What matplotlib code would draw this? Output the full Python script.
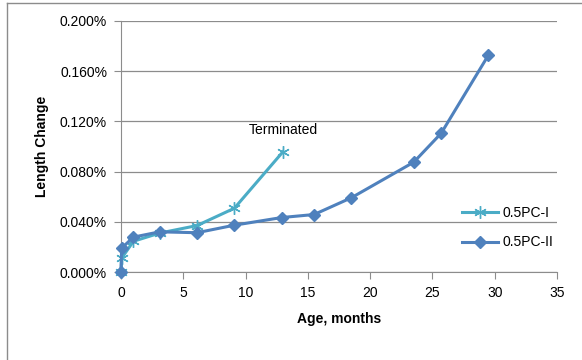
import matplotlib

matplotlib.use("Agg")
import matplotlib.pyplot as plt
from matplotlib.lines import Line2D
from matplotlib.ticker import FuncFormatter

plt.rcParams["font.family"] = ["Liberation Sans", "DejaVu Sans"]

# series 0.5PC-I (terminated at ~13 months)
age_1 = [0, 0.05, 1.0, 3.1, 6.1, 9.1, 13.0]
change_1 = [0.0, 0.011, 0.0245, 0.031, 0.037, 0.0508, 0.0958]

# series 0.5PC-II
age_2 = [0, 0.05, 1.0, 3.1, 6.1, 9.1, 12.9, 15.5, 18.5, 23.5, 25.7, 29.5]
change_2 = [0.0, 0.019, 0.0278, 0.032, 0.0313, 0.0373, 0.0434, 0.0458, 0.0592, 0.0875, 0.1105, 0.1729]

y_ticks = [0.0, 0.04, 0.08, 0.12, 0.16, 0.20]
x_ticks = [0, 5, 10, 15, 20, 25, 30, 35]

teal = "#4BACC6"
blue = "#4F81BD"

fig = plt.figure(figsize=(5.82, 3.6), dpi=100)
ax = fig.add_axes([121 / 582, 88 / 360, 436 / 582, 251 / 360])

ax.plot(age_1, change_1, color=teal, lw=2.2, marker=(6, 2, 0), ms=9, mew=1.0,
        mec=teal, label="0.5PC-I", zorder=3, clip_on=False)
ax.plot(age_2, change_2, color=blue, lw=2.2, marker="D", ms=6.5, mec=blue,
        label="0.5PC-II", zorder=4, clip_on=False)

ax.set_xlim(0, 35)
ax.set_ylim(0, 0.2)
ax.set_xticks(x_ticks)
ax.set_yticks(y_ticks)
ax.yaxis.set_major_formatter(FuncFormatter(lambda v, _: f"{v:.3f}%"))
ax.grid(axis="y", color="#8c8c8c", lw=0.9)
ax.set_axisbelow(True)
for side in ("top", "right"):
    ax.spines[side].set_visible(False)
for side in ("left", "bottom"):
    ax.spines[side].set_color("#8c8c8c")
ax.tick_params(axis="both", color="#8c8c8c", length=5, labelsize=10, pad=5)

ax.set_xlabel("Age, months", fontsize=10, fontweight="bold", labelpad=9)
ax.set_ylabel("Length Change", fontsize=10, fontweight="bold", labelpad=8)

ax.text(13.0, 0.1135, "Terminated", ha="center", va="center", fontsize=10)

ax.legend(loc="lower right", bbox_to_anchor=(1.02, 0.04), frameon=False,
          fontsize=10, handlelength=2.6, handletextpad=0.3, labelspacing=1.1)

# outer chart border (left and top visible)
fig.add_artist(Line2D([7 / 582, 7 / 582], [0, 357 / 360], color="#8c8c8c", lw=1))
fig.add_artist(Line2D([7 / 582, 1], [357 / 360, 357 / 360], color="#8c8c8c", lw=1))

fig.savefig("out.png", dpi=100)
